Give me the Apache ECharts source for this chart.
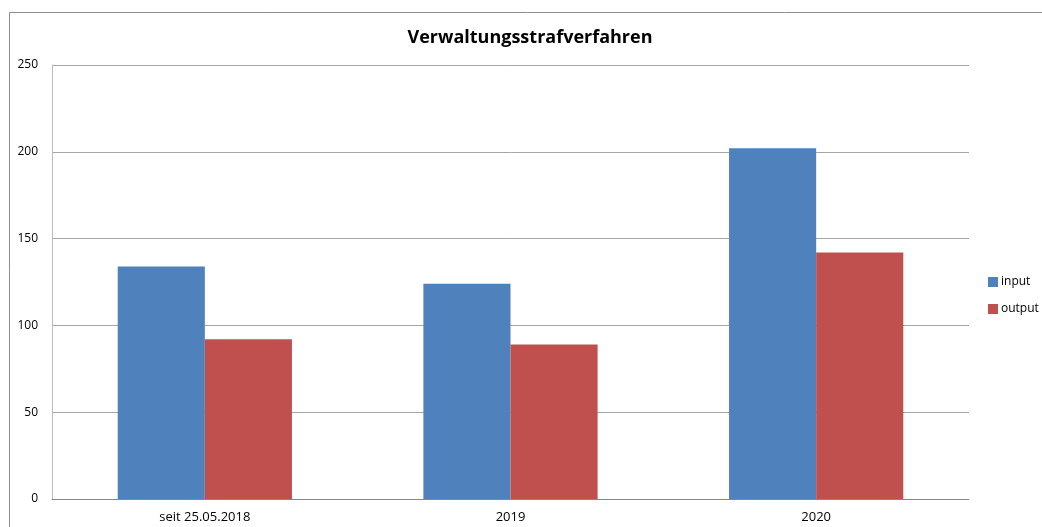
<!DOCTYPE html>
<html>
<head>
<meta charset="utf-8">
<script src="https://cdn.jsdelivr.net/npm/echarts@6/dist/echarts.min.js"></script>
<style>html,body{margin:0;padding:0;background:#fff}#c{width:1042px;height:527px}</style>
</head>
<body>
<div id="c"></div>
<script>
const categories = ['seit 25.05.2018', '2019', '2020'];
const inputValues = [134, 124, 202];
const outputValues = [92, 89, 142];
const yTicks = [0, 50, 100, 150, 200, 250];

const chart = echarts.init(document.getElementById('c'));
chart.setOption({
  animation: false,
  backgroundColor: '#fff',
  title: {
    text: 'Verwaltungsstrafverfahren',
    left: 525, top: 24, textAlign: 'center',
    textStyle: {fontFamily: 'Open Sans', fontWeight: 'bold', fontSize: 18, color: '#000'}
  },
  graphic: [{
    type: 'rect', shape: {x: 9.5, y: 12.5, width: 1100, height: 600},
    style: {fill: 'none', stroke: '#8c8c8c', lineWidth: 1}, silent: true, z: -1
  }],
  legend: {
    orient: 'vertical', left: 983, top: 271, itemWidth: 10, itemHeight: 10, itemGap: 15,
    icon: 'rect',
    textStyle: {fontFamily: 'Open Sans', fontSize: 12, color: '#000', padding: [0, 0, 0, -2]},
    data: ['input', 'output']
  },
  grid: {left: 52, right: 73, top: 65, bottom: 28},
  xAxis: {
    type: 'category', data: categories,
    axisLine: {lineStyle: {color: '#888', width: 1}},
    axisTick: {show: false},
    axisLabel: {fontFamily: 'Open Sans', fontSize: 13, color: '#000', margin: 12}
  },
  yAxis: {
    type: 'value', min: yTicks[0], max: yTicks[yTicks.length - 1], interval: 50,
    axisLine: {show: true, lineStyle: {color: '#bcbcbc'}},
    axisTick: {show: false},
    splitLine: {lineStyle: {color: '#a6a6a6'}},
    axisLabel: {fontFamily: 'Open Sans', fontSize: 12, color: '#000', margin: 14}
  },
  series: [
    {name: 'input', type: 'bar', data: inputValues, barGap: '0%', barCategoryGap: '43%',
     itemStyle: {color: '#4f81bd'}},
    {name: 'output', type: 'bar', data: outputValues, barGap: '0%', barCategoryGap: '43%',
     itemStyle: {color: '#c0504d'}}
  ]
});
</script>
</body>
</html>
